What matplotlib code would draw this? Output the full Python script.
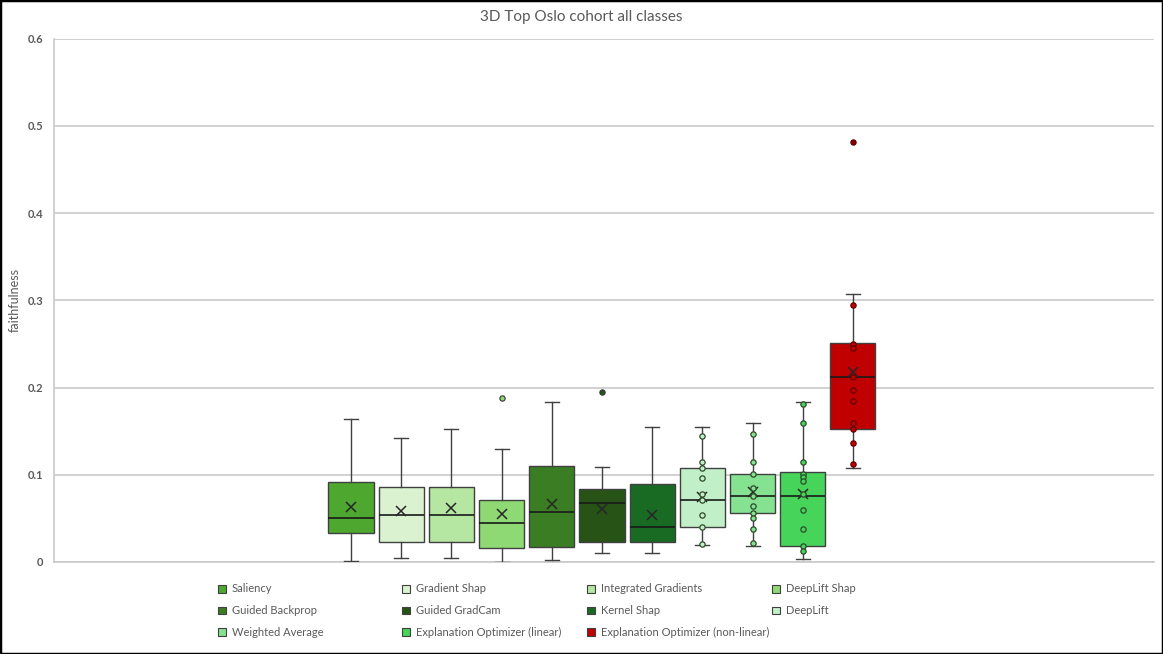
import matplotlib
matplotlib.use("Agg")
import matplotlib.pyplot as plt
from matplotlib.patches import Rectangle

# ---------------- data ----------------
names = ["Saliency", "Gradient Shap", "Integrated Gradients", "DeepLift Shap",
         "Guided Backprop", "Guided GradCam", "Kernel Shap", "DeepLift",
         "Weighted Average", "Explanation Optimizer (linear)",
         "Explanation Optimizer (non-linear)"]
colors = ["#4EA72E", "#DAF2D0", "#B5E6A2", "#8ED973", "#3B7D23", "#275317",
          "#196B24", "#C1F0C8", "#84E291", "#47D45A", "#C00000"]
whislo = [0.0015, 0.0046, 0.0046, 0.0004, 0.0023, 0.0107, 0.0107, 0.0195, 0.0183, 0.0034, 0.1076]
q1     = [0.0328, 0.0233, 0.0233, 0.0160, 0.0172, 0.0233, 0.0233, 0.0401, 0.0565, 0.0183, 0.1523]
median = [0.0508, 0.0535, 0.0535, 0.0443, 0.0569, 0.0672, 0.0401, 0.0714, 0.0752, 0.0752, 0.2115]
q3     = [0.0920, 0.0855, 0.0855, 0.0710, 0.1096, 0.0836, 0.0897, 0.1073, 0.1011, 0.1034, 0.2511]
whishi = [0.1637, 0.1416, 0.1523, 0.1294, 0.1836, 0.1084, 0.1553, 0.1553, 0.1595, 0.1836, 0.3073]
means  = [0.0630, 0.0588, 0.0618, 0.0546, 0.0660, 0.0610, 0.0542, 0.0748, 0.0805, 0.0775, 0.2179]
outliers = [[], [], [], [0.1878], [], [0.1947], [], [], [], [], [0.4809]]
inner_points = [
    [], [], [], [], [], [], [],
    [0.1443, 0.1141, 0.1073, 0.0958, 0.0775, 0.0710, 0.0535, 0.0401, 0.0202],
    [0.1462, 0.1141, 0.1011, 0.0847, 0.0760, 0.0637, 0.0565, 0.0508, 0.0378, 0.0221],
    [0.1813, 0.1595, 0.1141, 0.1011, 0.0973, 0.0928, 0.0775, 0.0592, 0.0378, 0.0187, 0.0130],
    [0.2950, 0.2496, 0.2454, 0.2115, 0.1970, 0.1844, 0.1595, 0.1523, 0.1366, 0.1119],
]
yticks = [0, 0.1, 0.2, 0.3, 0.4, 0.5, 0.6]
ytick_labels = ["0", "0.1", "0.2", "0.3", "0.4", "0.5", "0.6"]
title = "3D Top Oslo cohort all classes"
ylabel = "faithfulness"

# ---------------- style ----------------
plt.rcParams["font.family"] = ["Lato", "DejaVu Sans"]
grey_text = "#595959"
grid_col = "#C9C9C9"
edge_col = "#404040"

W, H = 1163, 654
fig = plt.figure(figsize=(W / 100, H / 100), dpi=100)
ax = fig.add_axes([54 / W, 1 - 562 / H, (1154 - 54) / W, (562 - 38.5) / H])

stats = []
for i in range(len(names)):
    stats.append(dict(label=names[i], whislo=whislo[i], q1=q1[i], med=median[i],
                      q3=q3[i], whishi=whishi[i], mean=means[i], fliers=outliers[i]))

positions = list(range(1, len(names) + 1))
bp = ax.bxp(stats, positions=positions, widths=0.9, patch_artist=True,
            showmeans=True, showfliers=True, capwidths=0.28,
            boxprops=dict(edgecolor=edge_col, linewidth=1.0),
            medianprops=dict(color="#1a1a1a", linewidth=1.2),
            whiskerprops=dict(color=edge_col, linewidth=1.0),
            capprops=dict(color=edge_col, linewidth=1.0),
            meanprops=dict(marker="x", markeredgecolor="#262626", markersize=7,
                           markeredgewidth=1.1),
            manage_ticks=False, zorder=3)
for patch, c in zip(bp["boxes"], colors):
    patch.set_facecolor(c)
for fl, c in zip(bp["fliers"], colors):
    fl.set(marker="o", markerfacecolor=c, markeredgecolor="#333333",
           markersize=3.8, markeredgewidth=0.8)
    if c == "#C00000":
        fl.set(markerfacecolor="#8a0000", markeredgecolor="#500000")

for pos, pts, c in zip(positions, inner_points, colors):
    if pts:
        ec = "#600000" if c == "#C00000" else "#2e4a2a"
        ax.plot([pos] * len(pts), pts, linestyle="none", marker="o",
                markerfacecolor=c, markeredgecolor=ec, markersize=3.8,
                markeredgewidth=0.9, zorder=4)

ax.set_xlim(-4.92, 17.0)
ax.set_ylim(0, 0.6)
ax.set_yticks(yticks)
ax.set_yticklabels(ytick_labels, color=grey_text, fontsize=8, fontweight="bold")
ax.tick_params(axis="y", length=0, pad=8)
ax.set_xticks([])
ax.yaxis.grid(True, color=grid_col, linewidth=1.2, zorder=0)
ax.set_axisbelow(True)
for s in ["top", "right"]:
    ax.spines[s].set_visible(False)
ax.spines["left"].set_color(grid_col)
ax.spines["left"].set_linewidth(1.2)
ax.spines["bottom"].set_color(grid_col)
ax.spines["bottom"].set_linewidth(1.2)

fig.text(0.5, 1 - 17 / H, title, ha="center", va="center", color=grey_text, fontsize=11)
fig.text(15 / W, 1 - 300 / H, ylabel, rotation=90, ha="center", va="center",
         color=grey_text, fontsize=9)

# legend (manual grid, Excel style)
col_x = [222, 406, 591, 776]
row_y = [589, 610.5, 632]
sq = 7.5
for i, (n, c) in enumerate(zip(names, colors)):
    cx = col_x[i % 4]
    cy = row_y[i // 4]
    fig.patches.append(Rectangle(((cx - sq / 2) / W, 1 - (cy + sq / 2) / H), sq / W, sq / H,
                                 transform=fig.transFigure, facecolor=c,
                                 edgecolor=edge_col, linewidth=0.8))
    fig.text((cx + 10) / W, 1 - cy / H, n, ha="left", va="center",
             color=grey_text, fontsize=8)

# outer frame
fig.patches.append(Rectangle((0, 0), 1, 1, transform=fig.transFigure, fill=False,
                             edgecolor="black", linewidth=2.5))

fig.savefig("out.png", dpi=100)
